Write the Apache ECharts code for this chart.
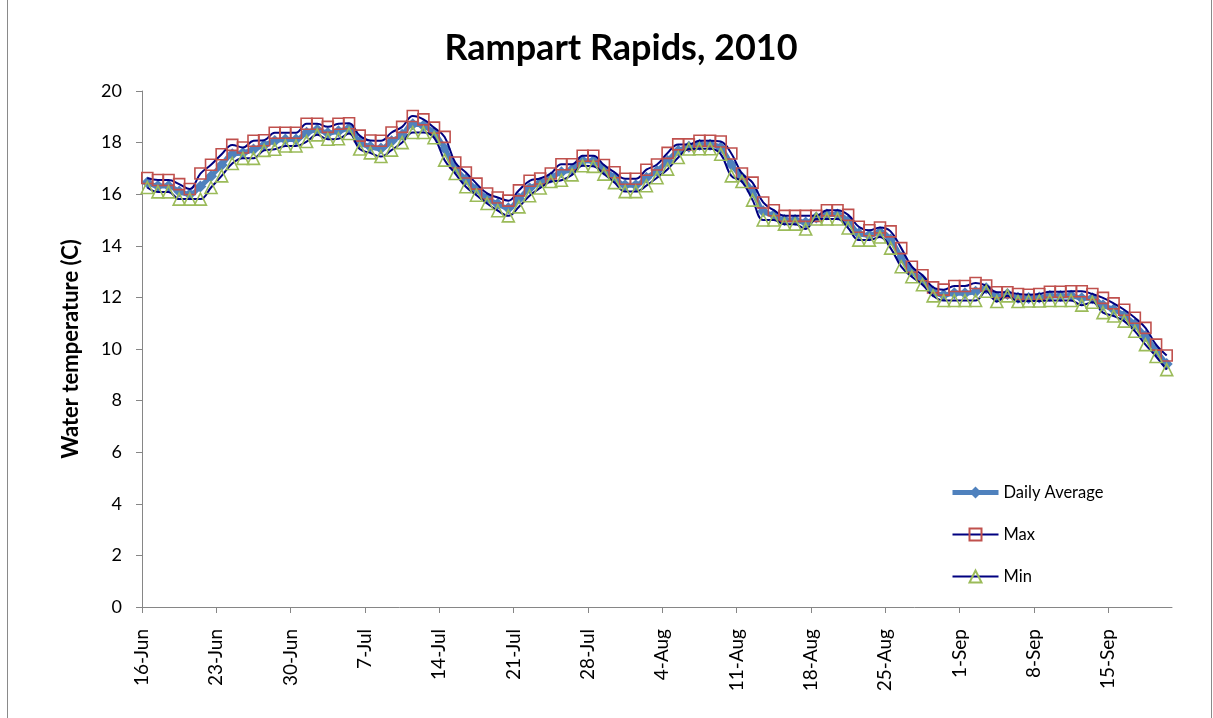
<!DOCTYPE html>
<html>
<head>
<meta charset="utf-8">
<script src="https://cdn.jsdelivr.net/npm/echarts@6/dist/echarts.min.js"></script>
<style>
html,body{margin:0;padding:0;background:#fff;}
#chart{width:1213px;height:718px;}
</style>
</head>
<body>
<div id="chart"></div>
<script>
// Tick labels on the date axis (one every 7 days starting 16-Jun)
var tickLabels = ['16-Jun','23-Jun','30-Jun','7-Jul','14-Jul','21-Jul','28-Jul','4-Aug','11-Aug','18-Aug','25-Aug','1-Sep','8-Sep','15-Sep'];

// Daily values, 16-Jun .. 20-Sep 2010 (one per day)
var avgTemp = [
16.45,16.32,16.32,16.10,16.00,16.30,16.70,17.13,17.55,17.60,
17.73,17.90,18.06,18.12,18.12,18.38,18.50,18.37,18.44,18.55,
18.01,17.84,17.77,18.05,18.30,18.71,18.65,18.38,17.77,17.02,
16.57,16.19,15.84,15.62,15.46,15.83,16.23,16.43,16.65,16.85,
16.96,17.30,17.29,16.96,16.65,16.35,16.35,16.64,16.90,17.29,
17.68,17.84,17.92,17.92,17.80,17.15,16.65,16.11,15.34,15.19,
15.00,15.00,14.90,15.10,15.21,15.21,14.95,14.48,14.41,14.53,
14.24,13.55,13.00,12.68,12.23,12.09,12.16,12.16,12.22,12.35,
12.02,12.13,11.99,11.98,12.00,12.05,12.05,12.06,11.97,11.97,
11.70,11.53,11.30,10.95,10.50,9.94,9.42
];
var maxTemp = [
16.63,16.55,16.55,16.39,16.20,16.80,17.14,17.55,17.91,17.81,
18.07,18.09,18.38,18.38,18.38,18.73,18.73,18.61,18.73,18.75,
18.27,18.08,18.07,18.39,18.61,19.03,18.90,18.58,18.22,17.23,
16.84,16.41,16.03,15.87,15.75,16.15,16.52,16.61,16.80,17.16,
17.16,17.49,17.49,17.13,16.85,16.60,16.60,16.95,17.15,17.60,
17.93,17.93,18.07,18.07,18.04,17.58,16.80,16.45,15.68,15.38,
15.16,15.16,15.16,15.16,15.38,15.38,15.20,14.74,14.60,14.71,
14.56,13.91,13.19,12.86,12.39,12.30,12.44,12.44,12.56,12.46,
12.20,12.20,12.13,12.10,12.13,12.22,12.22,12.24,12.24,12.13,
11.98,11.77,11.52,11.21,10.82,10.17,9.75
];
var minTemp = [
16.26,16.09,16.09,15.81,15.81,15.81,16.26,16.71,17.19,17.39,
17.39,17.70,17.74,17.87,17.87,18.04,18.30,18.13,18.15,18.35,
17.75,17.60,17.46,17.71,18.00,18.39,18.39,18.19,17.32,16.80,
16.29,15.96,15.64,15.36,15.16,15.51,15.94,16.24,16.49,16.54,
16.75,17.10,17.08,16.78,16.45,16.10,16.10,16.33,16.64,16.97,
17.42,17.75,17.76,17.76,17.55,16.71,16.49,15.77,15.00,15.00,
14.84,14.84,14.65,15.04,15.04,15.04,14.69,14.22,14.22,14.34,
13.91,13.19,12.80,12.49,12.06,11.88,11.88,11.88,11.88,12.24,
11.84,12.06,11.84,11.86,11.86,11.88,11.88,11.88,11.70,11.81,
11.41,11.28,11.08,10.69,10.17,9.71,9.20
];

var DAYS_PER_TICK = 7;
var AXIS_DAYS = 97;

function toPairs(arr){ return arr.map(function(v,i){ return [i + 0.5, v]; }); }
var tickValues = tickLabels.map(function(_,k){ return k * DAYS_PER_TICK; });

var FONT = 'Lato, "Open Sans", sans-serif';
var chart = echarts.init(document.getElementById('chart'), null, {renderer:'canvas'});
chart.setOption({
  backgroundColor:'#ffffff',
  animation:false,
  title:{
    text:'Rampart Rapids, 2010',
    left:616, top:25, textAlign:'center',
    textStyle:{fontFamily:FONT, fontWeight:'bold', fontSize:36, color:'#000'}
  },
  graphic:[{
    type:'rect', silent:true,
    shape:{x:7.5, y:-2, width:1204, height:722},
    style:{fill:'none', stroke:'#8a8a8a', lineWidth:1}
  }],
  grid:{left:142, right:41, top:91, bottom:111, containLabel:false},
  legend:{
    orient:'vertical', left:950, top:484, padding:0,
    itemWidth:46, itemHeight:15, itemGap:25,
    textStyle:{fontFamily:FONT, fontSize:16.5, color:'#000'},
    data:[
      {name:'Daily Average', lineStyle:{width:5, color:'#4F81BD'}},
      {name:'Max'},
      {name:'Min'}
    ]
  },
  xAxis:{
    type:'value', min:0, max:AXIS_DAYS,
    axisLine:{show:true, lineStyle:{color:'#868686', width:1}},
    axisTick:{show:true, length:6, lineStyle:{color:'#868686'}, customValues:tickValues},
    axisLabel:{
      rotate:90, margin:22, fontFamily:FONT, fontSize:19, color:'#000',
      customValues:tickValues,
      formatter:function(v){ var k = Math.round(v / DAYS_PER_TICK); return tickLabels[k] || ''; }
    },
    splitLine:{show:false}
  },
  yAxis:{
    type:'value', min:0, max:20, interval:2,
    name:'Water temperature (C)', nameLocation:'middle', nameGap:60, nameRotate:90,
    nameTextStyle:{fontFamily:FONT, fontWeight:'bold', fontSize:22, color:'#000'},
    axisLine:{show:true, lineStyle:{color:'#868686', width:1}},
    axisTick:{show:true, length:6, lineStyle:{color:'#868686'}},
    axisLabel:{margin:20, fontFamily:FONT, fontSize:18, color:'#000'},
    splitLine:{show:false}
  },
  series:[
    {
      name:'Daily Average', type:'line', data:toPairs(avgTemp), smooth:0.4,
      symbol:'diamond', symbolSize:12, showAllSymbol:true,
      lineStyle:{color:'#4F81BD', width:5},
      itemStyle:{color:'#4F81BD'}, z:2
    },
    {
      name:'Max', type:'line', data:toPairs(maxTemp), smooth:0.4,
      symbol:'rect', symbolSize:11, showAllSymbol:true,
      lineStyle:{color:'#000080', width:2},
      itemStyle:{color:'rgba(255,255,255,0)', borderColor:'#C0504D', borderWidth:1.6}, z:3
    },
    {
      name:'Min', type:'line', data:toPairs(minTemp), smooth:0.4,
      symbol:'triangle', symbolSize:12, showAllSymbol:true,
      lineStyle:{color:'#000080', width:2},
      itemStyle:{color:'rgba(255,255,255,0)', borderColor:'#9BBB59', borderWidth:1.6}, z:4
    }
  ]
});
</script>
</body>
</html>
